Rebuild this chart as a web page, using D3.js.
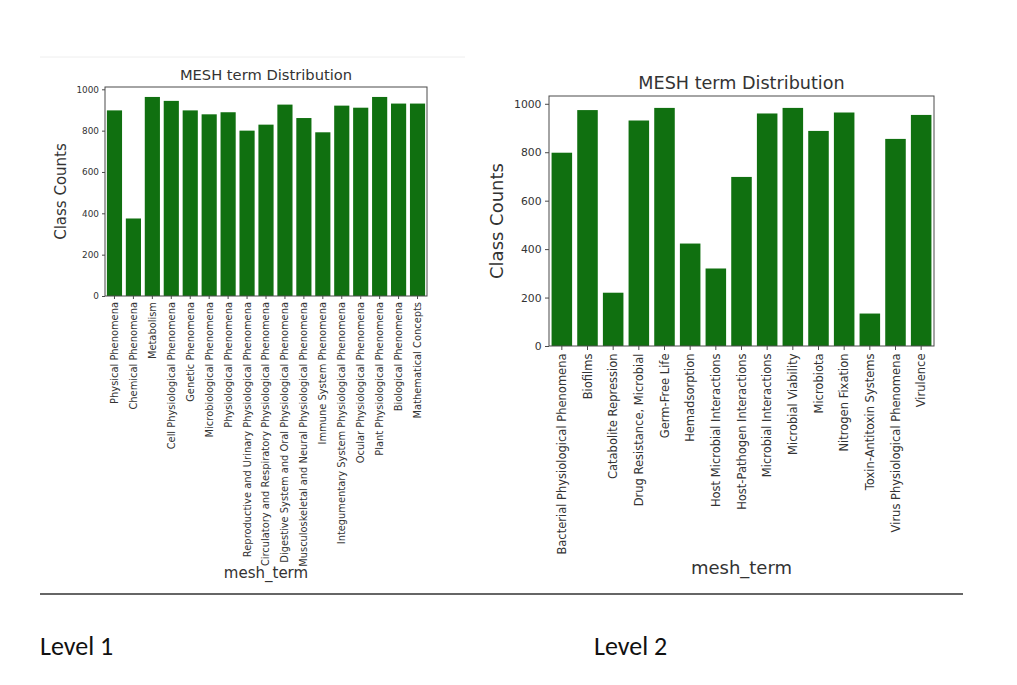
<!DOCTYPE html>
<html>
<head>
<meta charset="utf-8">
<script src="https://cdn.jsdelivr.net/npm/d3@7"></script>
<style>
  html, body { margin: 0; padding: 0; background: #ffffff; }
  svg { display: block; }
</style>
</head>
<body>
<svg id="chart" width="1017" height="685"></svg>
<script>
// ---- Data ----
const level1Categories = [
  "Physical Phenomena", "Chemical Phenomena", "Metabolism", "Cell Physiological Phenomena",
  "Genetic Phenomena", "Microbiological Phenomena", "Physiological Phenomena",
  "Reproductive and Urinary Physiological Phenomena", "Circulatory and Respiratory Physiological Phenomena",
  "Digestive System and Oral Physiological Phenomena", "Musculoskeletal and Neural Physiological Phenomena",
  "Immune System Phenomena", "Integumentary System Physiological Phenomena", "Ocular Physiological Phenomena",
  "Plant Physiological Phenomena", "Biological Phenomena", "Mathematical Concepts"
];
const level1Values = [898, 375, 963, 944, 898, 879, 889, 800, 829, 926, 861, 792, 921, 911, 963, 931, 931];

const level2Categories = [
  "Bacterial Physiological Phenomena", "Biofilms", "Catabolite Repression", "Drug Resistance, Microbial",
  "Germ-Free Life", "Hemadsorption", "Host Microbial Interactions", "Host-Pathogen Interactions",
  "Microbial Interactions", "Microbial Viability", "Microbiota", "Nitrogen Fixation",
  "Toxin-Antitoxin Systems", "Virus Physiological Phenomena", "Virulence"
];
const level2Values = [798, 974, 220, 931, 983, 423, 320, 698, 960, 983, 888, 964, 134, 855, 954];

const yTicks = [0, 200, 400, 600, 800, 1000];
const titleText = "MESH term Distribution";
const yLabelText = "Class Counts";
const xLabelText = "mesh_term";
const panelLabels = ["Level 1", "Level 2"];

// ---- Drawing ----
const svg = d3.select("#chart");
const barColor = "#107010";
const axisColor = "#4a4a4a";
const font = "'DejaVu Sans', sans-serif";

function drawPanel(cfg) {
  const x = d3.scaleBand()
    .domain(cfg.categories)
    .range([cfg.left, cfg.right])
    .paddingInner(0.2)
    .paddingOuter(0.1);
  const yMax = d3.max(cfg.values) * 1.05;
  const y = d3.scaleLinear().domain([0, yMax]).range([cfg.bottom, cfg.top]);

  const g = svg.append("g");

  g.selectAll("rect.bar")
    .data(cfg.values)
    .join("rect")
    .attr("class", "bar")
    .attr("x", (d, i) => x(cfg.categories[i]))
    .attr("y", d => y(d))
    .attr("width", x.bandwidth())
    .attr("height", d => y(0) - y(d))
    .attr("fill", barColor);

  // Frame
  g.append("rect")
    .attr("x", cfg.left).attr("y", cfg.top)
    .attr("width", cfg.right - cfg.left).attr("height", cfg.bottom - cfg.top)
    .attr("fill", "none").attr("stroke", axisColor).attr("stroke-width", 1);

  // Y axis
  const yAxis = d3.axisLeft(y).tickValues(yTicks).tickFormat(d3.format("d"))
    .tickSize(cfg.tickLen).tickPadding(cfg.tickPad);
  const ya = g.append("g").attr("transform", `translate(${cfg.left},0)`).call(yAxis);
  ya.select(".domain").remove();
  ya.selectAll("line").attr("stroke", axisColor);
  ya.selectAll("text").attr("font-family", font).attr("font-size", cfg.yTickFont).attr("fill", "#333");

  // X axis
  const xAxis = d3.axisBottom(x).tickSize(cfg.tickLen).tickPadding(cfg.tickPad);
  const xa = g.append("g").attr("transform", `translate(0,${cfg.bottom})`).call(xAxis);
  xa.select(".domain").remove();
  xa.selectAll("line").attr("stroke", axisColor);
  xa.selectAll("text")
    .attr("font-family", font).attr("font-size", cfg.xTickFont).attr("fill", "#333")
    .attr("transform", "rotate(-90)")
    .attr("text-anchor", "end")
    .attr("x", -(cfg.tickLen + cfg.tickPad))
    .attr("y", 0)
    .attr("dy", "0.35em");

  // Title
  g.append("text")
    .attr("x", (cfg.left + cfg.right) / 2).attr("y", cfg.titleY)
    .attr("text-anchor", "middle").attr("font-family", font)
    .attr("font-size", cfg.titleFont).attr("fill", "#333")
    .text(titleText);

  // Y label
  g.append("text")
    .attr("transform", `translate(${cfg.yLabelX},${(cfg.top + cfg.bottom) / 2}) rotate(-90)`)
    .attr("text-anchor", "middle").attr("dy", "0.35em").attr("font-family", font)
    .attr("font-size", cfg.labelFont).attr("fill", "#333")
    .text(yLabelText);

  // X label
  g.append("text")
    .attr("x", (cfg.left + cfg.right) / 2).attr("y", cfg.xLabelY)
    .attr("text-anchor", "middle").attr("font-family", font)
    .attr("font-size", cfg.labelFont).attr("fill", "#333")
    .text(xLabelText);
}

// faint border line of the left image
svg.append("line").attr("x1", 40).attr("x2", 465).attr("y1", 57).attr("y2", 57)
  .attr("stroke", "#eeeeee").attr("stroke-width", 1);

drawPanel({
  categories: level1Categories, values: level1Values,
  left: 105, right: 427, top: 87, bottom: 296,
  tickLen: 3, tickPad: 3, yTickFont: 8.9, xTickFont: 9.9,
  titleFont: 14.7, labelFont: 15, titleY: 80, yLabelX: 61, xLabelY: 578
});

drawPanel({
  categories: level2Categories, values: level2Values,
  left: 549, right: 934, top: 96, bottom: 346,
  tickLen: 4, tickPad: 3.5, yTickFont: 10.8, xTickFont: 11.5,
  titleFont: 17.6, labelFont: 18, titleY: 89, yLabelX: 497, xLabelY: 574
});

// separator and level labels
svg.append("line").attr("x1", 40).attr("x2", 963).attr("y1", 594).attr("y2", 594)
  .attr("stroke", "#666666").attr("stroke-width", 2);

svg.selectAll("text.level")
  .data(panelLabels)
  .join("text")
  .attr("class", "level")
  .attr("x", (d, i) => i === 0 ? 40 : 594)
  .attr("y", 655)
  .attr("font-family", "Carlito, 'Liberation Sans Narrow', 'Open Sans', sans-serif")
  .attr("font-size", 26)
  .attr("fill", "#111")
  .text(d => d);
</script>
</body>
</html>
